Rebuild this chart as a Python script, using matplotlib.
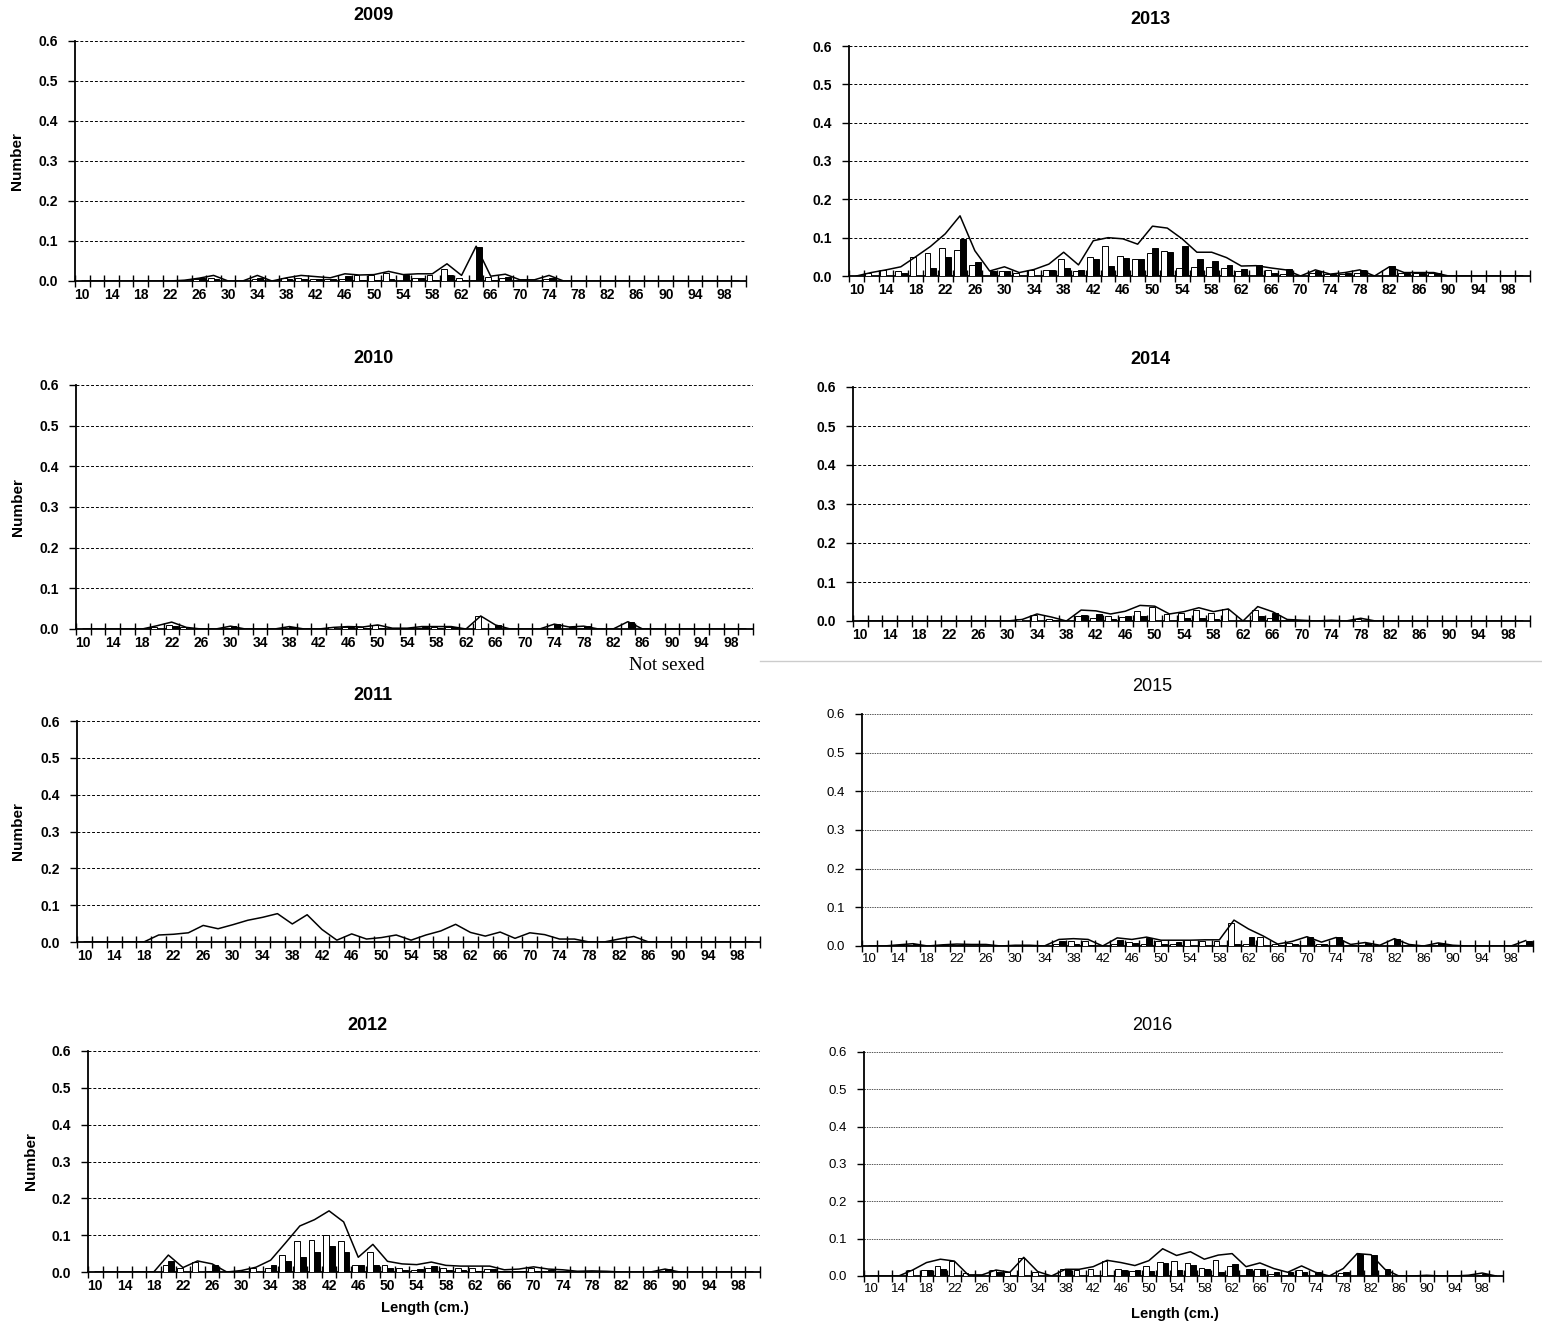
import matplotlib
matplotlib.use("Agg")
import matplotlib.pyplot as plt
from matplotlib.lines import Line2D

plt.rcParams["font.family"] = ["Liberation Sans", "DejaVu Sans"]

LENGTHS = list(range(10, 101, 2))

# values by length class 10,12,...,100 (rows of ten: 10-28, 30-48, 50-68, 70-88, 90-100)
F_2009 = [0, 0, 0, 0, 0, 0, 0, 0.002, 0.004, 0.008,
          0, 0, 0.004, 0, 0.007, 0.008, 0.006, 0.004, 0.005, 0.014,
          0.014, 0.02, 0, 0.008, 0.016, 0.03, 0.008, 0.003, 0.01, 0.007,
          0.002, 0, 0.006, 0, 0, 0, 0, 0, 0, 0,
          0, 0, 0, 0, 0, 0]
M_2009 = [0, 0, 0, 0, 0, 0, 0, 0, 0.007, 0.006,
          0, 0, 0.008, 0, 0.004, 0.006, 0.004, 0.004, 0.012, 0.002,
          0.002, 0.004, 0.016, 0.008, 0.002, 0.016, 0.003, 0.085, 0.002, 0.01,
          0.002, 0, 0.008, 0, 0, 0, 0, 0, 0, 0,
          0, 0, 0, 0, 0, 0]
T_2009 = [0, 0, 0, 0, 0, 0, 0, 0.002, 0.007, 0.014,
          0, 0, 0.014, 0, 0.008, 0.014, 0.011, 0.008, 0.018, 0.015,
          0.016, 0.024, 0.016, 0.018, 0.018, 0.043, 0.014, 0.087, 0.012, 0.017,
          0.003, 0.003, 0.014, 0, 0, 0, 0, 0, 0, 0,
          0, 0, 0, 0, 0, 0]

F_2010 = [0, 0, 0, 0, 0, 0.006, 0.01, 0.004, 0, 0,
          0.002, 0, 0, 0, 0.002, 0, 0, 0.004, 0.006, 0.004,
          0.009, 0, 0, 0.003, 0.005, 0.005, 0, 0.032, 0, 0,
          0, 0, 0, 0, 0.003, 0, 0, 0, 0, 0,
          0, 0, 0, 0, 0, 0]
M_2010 = [0, 0, 0, 0, 0, 0, 0.008, 0, 0, 0,
          0.007, 0, 0, 0, 0.006, 0, 0, 0, 0.004, 0.002,
          0.002, 0, 0.002, 0.006, 0.002, 0.004, 0, 0, 0.01, 0,
          0, 0, 0.012, 0.005, 0.007, 0, 0, 0.016, 0, 0,
          0, 0, 0, 0, 0, 0]
T_2010 = [0, 0, 0, 0, 0, 0.008, 0.017, 0.004, 0, 0,
          0.007, 0, 0, 0, 0.006, 0, 0, 0.004, 0.006, 0.005,
          0.01, 0.002, 0.002, 0.006, 0.006, 0.006, 0, 0.032, 0.01, 0,
          0, 0, 0.012, 0.005, 0.007, 0, 0, 0.018, 0, 0,
          0, 0, 0, 0, 0, 0]

F_2011 = [0] * 46
M_2011 = [0] * 46
T_2011 = [0, 0, 0, 0, 0, 0.019, 0.021, 0.025, 0.045, 0.036,
          0.047, 0.059, 0.067, 0.077, 0.049, 0.074, 0.034, 0.005, 0.022, 0.008,
          0.012, 0.019, 0.005, 0.019, 0.03, 0.048, 0.026, 0.016, 0.027, 0.01,
          0.025, 0.02, 0.008, 0.008, 0, 0, 0.008, 0.015, 0, 0,
          0, 0, 0, 0, 0, 0]

F_2012 = [0, 0, 0, 0, 0, 0.02, 0.01, 0.028, 0.004, 0,
          0, 0.01, 0.01, 0.045, 0.083, 0.087, 0.1, 0.083, 0.02, 0.055,
          0.02, 0.012, 0.006, 0.01, 0.012, 0.01, 0.012, 0.008, 0.004, 0.002,
          0.01, 0.002, 0.002, 0, 0.002, 0, 0, 0, 0, 0.002,
          0, 0, 0, 0, 0, 0]
M_2012 = [0, 0, 0, 0, 0, 0.03, 0, 0, 0.02, 0,
          0.004, 0, 0.02, 0.03, 0.04, 0.055, 0.07, 0.055, 0.02, 0.02,
          0.01, 0.006, 0.008, 0.016, 0.006, 0.006, 0.004, 0.008, 0.002, 0.004,
          0.004, 0.006, 0.004, 0, 0, 0, 0, 0, 0, 0.008,
          0, 0, 0, 0, 0, 0]
T_2012 = [0, 0, 0, 0, 0, 0.046, 0.012, 0.03, 0.022, 0,
          0.004, 0.013, 0.032, 0.078, 0.125, 0.142, 0.166, 0.136, 0.04, 0.075,
          0.029, 0.022, 0.02, 0.027, 0.018, 0.016, 0.016, 0.016, 0.006, 0.008,
          0.014, 0.008, 0.006, 0.002, 0.003, 0.002, 0, 0, 0, 0.008,
          0, 0, 0, 0, 0, 0]

F_2013 = [0, 0.008, 0.015, 0.013, 0.05, 0.06, 0.072, 0.067, 0.03, 0,
          0.014, 0.008, 0.016, 0.016, 0.044, 0.014, 0.05, 0.078, 0.051, 0.044,
          0.061, 0.066, 0.02, 0.024, 0.024, 0.02, 0.012, 0, 0.016, 0.004,
          0, 0.008, 0.004, 0.004, 0.008, 0, 0, 0.008, 0.008, 0.008,
          0, 0, 0, 0, 0, 0]
M_2013 = [0, 0, 0, 0.008, 0, 0.02, 0.05, 0.096, 0.037, 0.013,
          0.014, 0, 0, 0.016, 0.02, 0.016, 0.044, 0.027, 0.046, 0.044,
          0.073, 0.062, 0.078, 0.044, 0.04, 0.03, 0.018, 0.028, 0.008, 0.018,
          0, 0.012, 0.004, 0.008, 0.016, 0, 0.026, 0.008, 0.008, 0.008,
          0, 0, 0, 0, 0, 0]
T_2013 = [0, 0.009, 0.016, 0.024, 0.05, 0.077, 0.11, 0.157, 0.066, 0.013,
          0.024, 0.009, 0.017, 0.031, 0.062, 0.029, 0.092, 0.1, 0.097, 0.083,
          0.13, 0.125, 0.097, 0.062, 0.062, 0.048, 0.026, 0.027, 0.021, 0.016,
          0, 0.016, 0.005, 0.009, 0.016, 0, 0.024, 0.009, 0.009, 0.009,
          0, 0, 0, 0, 0, 0]

F_2014 = [0, 0, 0, 0, 0, 0, 0, 0, 0, 0,
          0, 0.004, 0.016, 0.006, 0, 0.014, 0.008, 0.014, 0.01, 0.026,
          0.037, 0.017, 0.02, 0.027, 0.02, 0.03, 0, 0.028, 0.008, 0.002,
          0.002, 0, 0, 0, 0.006, 0, 0, 0, 0, 0,
          0, 0, 0, 0, 0, 0]
M_2014 = [0, 0, 0, 0, 0, 0, 0, 0, 0, 0,
          0, 0, 0, 0.002, 0, 0.016, 0.017, 0.005, 0.014, 0.014,
          0, 0, 0.008, 0.008, 0.006, 0, 0, 0.013, 0.02, 0.002,
          0, 0, 0.002, 0, 0, 0, 0, 0, 0, 0,
          0, 0, 0, 0, 0, 0]
T_2014 = [0, 0, 0, 0, 0, 0, 0, 0, 0, 0,
          0, 0.004, 0.018, 0.01, 0, 0.028, 0.026, 0.018, 0.025, 0.04,
          0.038, 0.018, 0.024, 0.034, 0.024, 0.031, 0, 0.037, 0.024, 0.004,
          0.002, 0, 0.002, 0, 0.007, 0, 0, 0, 0, 0,
          0, 0, 0, 0, 0, 0]

F_2015 = [0, 0, 0.002, 0.002, 0, 0.002, 0.002, 0, 0, 0,
          0, 0, 0, 0.004, 0.013, 0.014, 0, 0.004, 0.01, 0.006,
          0.012, 0.006, 0.015, 0.014, 0.014, 0.06, 0.004, 0.023, 0.004, 0.008,
          0, 0.006, 0, 0.002, 0.002, 0.002, 0, 0.002, 0, 0.002,
          0.002, 0, 0, 0, 0, 0.002]
M_2015 = [0, 0, 0.002, 0.006, 0, 0.002, 0.002, 0, 0, 0,
          0.002, 0, 0, 0.014, 0.006, 0.002, 0, 0.016, 0.008, 0.02,
          0.004, 0.01, 0, 0, 0, 0.004, 0.022, 0, 0.002, 0.004,
          0.024, 0.004, 0.022, 0.002, 0.008, 0, 0.019, 0.002, 0, 0.008,
          0, 0, 0, 0, 0, 0.014]
T_2015 = [0, 0, 0.003, 0.006, 0, 0.003, 0.005, 0.004, 0.004, 0,
          0.002, 0.002, 0, 0.017, 0.019, 0.017, 0, 0.021, 0.017, 0.023,
          0.015, 0.015, 0.015, 0.016, 0.016, 0.067, 0.044, 0.026, 0.005, 0.012,
          0.024, 0.01, 0.022, 0.004, 0.009, 0.002, 0.019, 0.004, 0, 0.008,
          0.002, 0, 0, 0, 0, 0.014]

F_2016 = [0, 0, 0, 0.016, 0.016, 0.026, 0.04, 0.008, 0.002, 0.016,
          0.01, 0.048, 0.012, 0, 0.018, 0.016, 0.02, 0.04, 0.02, 0.014,
          0.026, 0.038, 0.04, 0.036, 0.022, 0.044, 0.026, 0, 0.018, 0.006,
          0.004, 0.016, 0, 0, 0.008, 0, 0, 0, 0, 0,
          0.002, 0, 0, 0, 0.002, 0]
M_2016 = [0, 0, 0, 0, 0.016, 0.018, 0, 0, 0, 0.01,
          0, 0, 0, 0, 0.016, 0, 0, 0, 0.016, 0.016,
          0.014, 0.036, 0.016, 0.03, 0.02, 0.012, 0.032, 0.02, 0.018, 0.01,
          0.01, 0.01, 0.01, 0, 0.012, 0.06, 0.056, 0.018, 0, 0,
          0, 0, 0, 0, 0.006, 0]
T_2016 = [0, 0, 0, 0.016, 0.036, 0.045, 0.04, 0.003, 0.003, 0.016,
          0.01, 0.05, 0.012, 0, 0.018, 0.018, 0.025, 0.042, 0.036, 0.028,
          0.041, 0.073, 0.055, 0.065, 0.045, 0.056, 0.06, 0.025, 0.035, 0.02,
          0.01, 0.027, 0.01, 0, 0.02, 0.06, 0.057, 0.018, 0, 0,
          0.002, 0, 0, 0.002, 0.008, 0]

W, H = 1542, 1326

# (year, female, male, total, axis box px: left, top, right, bottom, title xy, bold, ylabel xy)
PANELS = [
    ("2009", F_2009, M_2009, T_2009, (75, 41, 746, 281), (373, 15), True, (17, 161)),
    ("2010", F_2010, M_2010, T_2010, (76, 385, 753, 629), (373, 359), True, (18, 507)),
    ("2011", F_2011, M_2011, T_2011, (77, 721, 760, 942), (373, 696), True, (18, 831)),
    ("2012", F_2012, M_2012, T_2012, (88, 1051, 760, 1272), (367, 1025), True, (31, 1161)),
    ("2013", F_2013, M_2013, T_2013, (849, 46, 1530, 276), (1150, 19), True, None),
    ("2014", F_2014, M_2014, T_2014, (853, 387, 1530, 621), (1150, 360), True, None),
    ("2015", F_2015, M_2015, T_2015, (862, 714, 1533, 946), (1152, 686), False, None),
    ("2016", F_2016, M_2016, T_2016, (864, 1052, 1503, 1276), (1152, 1026), False, None),
]

fig = plt.figure(figsize=(W / 100, H / 100), dpi=100)

idx = list(range(len(LENGTHS)))
for year, fem, mal, tot, box, title_xy, bold, ylab_xy in PANELS:
    left, top, right, bottom = box
    ax = fig.add_axes([left / W, 1 - bottom / H, (right - left) / W, (bottom - top) / H])
    weight = "bold" if bold else "normal"
    tsize = 10 if bold else 9.5

    ax.bar([i - 0.2 for i in idx], fem, width=0.4, color="white", edgecolor="black", linewidth=0.7, zorder=3)
    ax.bar([i + 0.2 for i in idx], mal, width=0.4, color="black", edgecolor="black", linewidth=0.7, zorder=3)
    ax.plot(idx, tot, color="black", linewidth=1.1, zorder=4)

    ax.set_xlim(-0.5, len(LENGTHS) - 0.5)
    ax.set_ylim(0, 0.6)
    ax.set_yticks([0, 0.1, 0.2, 0.3, 0.4, 0.5, 0.6])
    ax.set_yticklabels([f"{v:.1f}" for v in [0, 0.1, 0.2, 0.3, 0.4, 0.5, 0.6]], fontsize=tsize, fontweight=weight)

    ax.set_xticks([i - 0.5 for i in range(len(LENGTHS) + 1)])
    ax.set_xticklabels([])
    ax.set_xticks(idx[::2], minor=True)
    ax.set_xticklabels([str(v) for v in LENGTHS[::2]], minor=True, fontsize=tsize, fontweight=weight)
    ax.tick_params(axis="x", which="major", direction="inout", length=8, width=1)
    ax.tick_params(axis="x", which="minor", length=0, pad=5)
    ax.tick_params(axis="y", direction="out", length=5, width=1, pad=7)

    if bold:
        ax.yaxis.grid(True, linestyle=(0, (3, 2)), color="black", linewidth=0.7)
    else:
        ax.yaxis.grid(True, linestyle=(0, (1.5, 1)), color="#555555", linewidth=0.7)
    ax.set_axisbelow(True)

    for side in ("top", "right"):
        ax.spines[side].set_visible(False)
    ax.spines["left"].set_linewidth(1.3)
    ax.spines["bottom"].set_linewidth(1.3)

    fig.text(title_xy[0] / W, 1 - title_xy[1] / H, year, ha="center", va="center",
             fontsize=13, fontweight=weight)
    if ylab_xy:
        fig.text(ylab_xy[0] / W, 1 - ylab_xy[1] / H, "Number", rotation=90, ha="center", va="center",
                 fontsize=11, fontweight="bold", family=["Liberation Sans Narrow", "Liberation Sans"])

fig.text(425 / W, 1 - 1308 / H, "Length (cm.)", ha="center", va="center", fontsize=10.5, fontweight="bold")
fig.text(1175 / W, 1 - 1314 / H, "Length (cm.)", ha="center", va="center", fontsize=10.5, fontweight="bold")
fig.text(667 / W, 1 - 666 / H, "Not sexed", ha="center", va="center", fontsize=13.5, family=["Liberation Serif"])

fig.add_artist(Line2D([760 / W, 1], [1 - 661 / H, 1 - 661 / H], color="#cccccc", linewidth=1))

fig.savefig("out.png", dpi=100)
